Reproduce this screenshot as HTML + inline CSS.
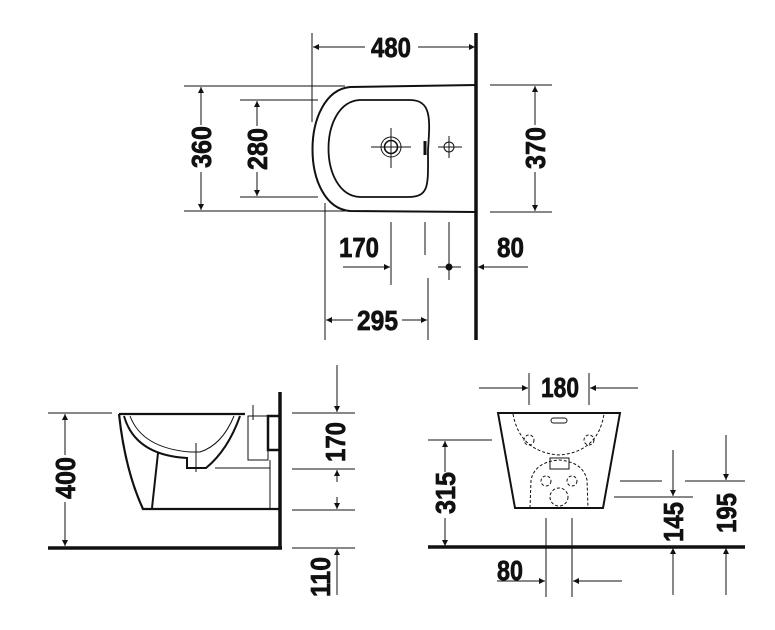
<!DOCTYPE html>
<html><head><meta charset="utf-8"><style>
html,body{margin:0;padding:0;background:#fff;}
svg{display:block;}
text{font-family:"Liberation Sans",sans-serif;font-weight:bold;font-size:28px;fill:#111;stroke:#111;stroke-width:0.7;}
</style></head><body>
<svg width="775" height="630" viewBox="0 0 775 630" xmlns="http://www.w3.org/2000/svg">
<defs>
<marker id="a" viewBox="0 0 10 10" refX="10" refY="5" markerWidth="9" markerHeight="6" markerUnits="userSpaceOnUse" orient="auto"><path d="M0,0L10,5L0,10z" fill="#111"/></marker>
</defs>
<g stroke="#111" stroke-width="1" fill="none">
<!-- TOP VIEW -->
<line x1="476" y1="33" x2="476" y2="340" stroke-width="3.5"/>
<line x1="312" y1="33" x2="312" y2="122"/>
<line x1="365" y1="47" x2="313" y2="47" marker-end="url(#a)"/>
<line x1="418" y1="47" x2="475" y2="47" marker-end="url(#a)"/>
<path d="M476,85 L350,87 C300,92 300,207 350,211 L476,212" stroke-width="2"/>
<path d="M410,100 C432,100 430,120 428,150 C428,185 430,197 408,197 L360,197 C318,195 318,102 360,100 Z" stroke-width="1.8"/>
<circle cx="391" cy="147" r="10"/><circle cx="391" cy="147" r="6.5" stroke-width="1.6"/>
<line x1="371" y1="147" x2="411" y2="147"/><line x1="391" y1="128" x2="391" y2="168"/>
<circle cx="449" cy="147" r="5"/><line x1="438" y1="147" x2="462" y2="147"/><line x1="449" y1="136" x2="449" y2="158"/>
<line x1="425" y1="141" x2="425" y2="155" stroke-width="3"/>
<line x1="184" y1="86" x2="345" y2="86"/><line x1="184" y1="211" x2="345" y2="211"/>
<line x1="201" y1="125" x2="201" y2="87" marker-end="url(#a)"/><line x1="201" y1="172" x2="201" y2="210" marker-end="url(#a)"/>
<line x1="240" y1="100" x2="318" y2="100"/><line x1="240" y1="197" x2="318" y2="197"/>
<line x1="257" y1="126" x2="257" y2="101" marker-end="url(#a)"/><line x1="257" y1="172" x2="257" y2="196" marker-end="url(#a)"/>
<line x1="490" y1="85" x2="552" y2="85"/><line x1="490" y1="212" x2="552" y2="212"/>
<line x1="535" y1="125" x2="535" y2="86" marker-end="url(#a)"/><line x1="535" y1="172" x2="535" y2="211" marker-end="url(#a)"/>
<line x1="325" y1="203" x2="325" y2="340"/>
<line x1="391" y1="222" x2="391" y2="285"/>
<line x1="425" y1="222" x2="425" y2="255"/>
<line x1="449" y1="222" x2="449" y2="280"/>
<line x1="428" y1="278" x2="428" y2="340"/>
<line x1="343" y1="267" x2="390" y2="267" marker-end="url(#a)"/>
<line x1="438" y1="267" x2="461" y2="267"/>
<circle cx="449" cy="267" r="3" fill="#111"/>
<line x1="528" y1="267" x2="478" y2="267" marker-end="url(#a)"/>
<line x1="353" y1="320" x2="326" y2="320" marker-end="url(#a)"/>
<line x1="402" y1="320" x2="427" y2="320" marker-end="url(#a)"/>
<!-- SIDE VIEW -->
<line x1="280" y1="392" x2="280" y2="549" stroke-width="3.5"/>
<line x1="48" y1="548" x2="282" y2="548" stroke-width="3.5"/>
<line x1="48" y1="413" x2="112" y2="413"/>
<line x1="65" y1="455" x2="65" y2="414" marker-end="url(#a)"/><line x1="65" y1="502" x2="65" y2="546" marker-end="url(#a)"/>
<path d="M119,414 L245,414 M119,414 Q125,470 143,509 L280,509" stroke-width="2.2"/>
<path d="M124,416 Q135,455 187,458 L187,468 L206,468 Q228,450 240,416" stroke-width="2"/>
<path d="M130,416 Q142,448 190,452 L200,452 Q222,445 234,416" stroke-width="1"/>
<line x1="158" y1="453" x2="152" y2="508" stroke-width="2"/>
<rect x="248" y="416" width="20" height="44" stroke-width="1"/>
<rect x="268" y="416" width="12" height="34" stroke-width="2.5"/>
<line x1="196" y1="443" x2="196" y2="472"/><line x1="253" y1="405" x2="253" y2="420"/>
<line x1="215" y1="468" x2="270" y2="468"/><line x1="270" y1="460" x2="270" y2="509"/>
<line x1="292" y1="413" x2="355" y2="413"/><line x1="292" y1="469" x2="355" y2="469"/>
<line x1="292" y1="510" x2="355" y2="510"/><line x1="292" y1="548" x2="355" y2="548"/>
<line x1="337" y1="365" x2="337" y2="412" marker-end="url(#a)"/>
<line x1="337" y1="482" x2="337" y2="470" marker-end="url(#a)"/>
<line x1="337" y1="497" x2="337" y2="509" marker-end="url(#a)"/>
<line x1="337" y1="595" x2="337" y2="549" marker-end="url(#a)"/>
<!-- FRONT VIEW -->
<line x1="428" y1="547" x2="745" y2="547" stroke-width="3.5"/>
<path d="M498,413 L620,413 L603,508 L515,508 Z" stroke-width="2"/>
<line x1="529" y1="373" x2="529" y2="405"/><line x1="589" y1="373" x2="589" y2="405"/>
<line x1="479" y1="388" x2="528" y2="388" marker-end="url(#a)"/>
<line x1="638" y1="388" x2="590" y2="388" marker-end="url(#a)"/>
<g stroke-dasharray="3,2">
<path d="M513,414 Q520,452 559,455 Q598,452 604,414"/>
<path d="M530,508 L531,480 Q535,462 559,460 Q583,462 587,480 L588,508"/>
<circle cx="529" cy="440" r="5"/><circle cx="589" cy="440" r="5"/>
<circle cx="546" cy="481" r="5"/><circle cx="572" cy="481" r="5"/>
<circle cx="559" cy="497" r="9"/>
</g>
<rect x="551" y="418" width="16" height="5" rx="2.5"/>
<rect x="550" y="458" width="19" height="11"/>
<line x1="428" y1="440" x2="492" y2="440"/>
<line x1="445" y1="472" x2="445" y2="441" marker-end="url(#a)"/><line x1="445" y1="518" x2="445" y2="546" marker-end="url(#a)"/>
<line x1="620" y1="481" x2="662" y2="481"/><line x1="685" y1="481" x2="745" y2="481"/>
<line x1="614" y1="497" x2="693" y2="497"/>
<line x1="673" y1="450" x2="673" y2="496" marker-end="url(#a)"/>
<line x1="673" y1="595" x2="673" y2="548" marker-end="url(#a)"/>
<line x1="726" y1="435" x2="726" y2="480" marker-end="url(#a)"/>
<line x1="726" y1="595" x2="726" y2="548" marker-end="url(#a)"/>
<line x1="546" y1="518" x2="546" y2="597"/><line x1="572" y1="518" x2="572" y2="597"/>
<line x1="497" y1="581" x2="545" y2="581" marker-end="url(#a)"/>
<line x1="622" y1="581" x2="573" y2="581" marker-end="url(#a)"/>
</g>
<!-- LABELS -->
<text x="371" y="57" textLength="40" lengthAdjust="spacingAndGlyphs">480</text>
<text transform="translate(211,168) rotate(-90)" textLength="42" lengthAdjust="spacingAndGlyphs">360</text>
<text transform="translate(267,170) rotate(-90)" textLength="42" lengthAdjust="spacingAndGlyphs">280</text>
<text transform="translate(545,169) rotate(-90)" textLength="42" lengthAdjust="spacingAndGlyphs">370</text>
<text x="339" y="257" textLength="40" lengthAdjust="spacingAndGlyphs">170</text>
<text x="497" y="257" textLength="27" lengthAdjust="spacingAndGlyphs">80</text>
<text x="357" y="330" textLength="41" lengthAdjust="spacingAndGlyphs">295</text>
<text transform="translate(75,499) rotate(-90)" textLength="42" lengthAdjust="spacingAndGlyphs">400</text>
<text transform="translate(345,462) rotate(-90)" textLength="40" lengthAdjust="spacingAndGlyphs">170</text>
<text transform="translate(330,597) rotate(-90)" textLength="40" lengthAdjust="spacingAndGlyphs">110</text>
<text x="541" y="397" textLength="38" lengthAdjust="spacingAndGlyphs">180</text>
<text transform="translate(455,514) rotate(-90)" textLength="42" lengthAdjust="spacingAndGlyphs">315</text>
<text transform="translate(683,542) rotate(-90)" textLength="40" lengthAdjust="spacingAndGlyphs">145</text>
<text transform="translate(736,533) rotate(-90)" textLength="40" lengthAdjust="spacingAndGlyphs">195</text>
<text x="497" y="580" textLength="26" lengthAdjust="spacingAndGlyphs">80</text>
</svg>
</body></html>
